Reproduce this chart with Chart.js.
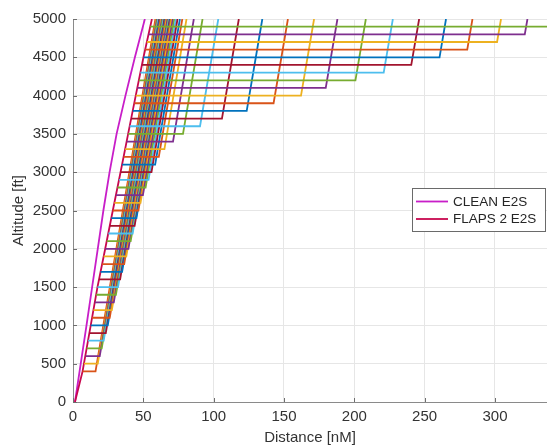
<!DOCTYPE html>
<html>
<head>
<meta charset="utf-8">
<script src="https://cdn.jsdelivr.net/npm/chart.js@4.4.1/dist/chart.umd.min.js"></script>
<style>
    html, body { margin: 0; padding: 0; background: #ffffff; }
    #wrap { position: relative; width: 547px; height: 447px; }
</style>
</head>
<body>
<div id="wrap"><canvas id="climb-chart"></canvas></div>
<script>
// level-off altitudes [ft], one trajectory per level
const levelAlt = [400, 500, 600, 700, 800, 900, 1000, 1100, 1200, 1300,
    1400, 1500, 1600, 1700, 1800, 1900, 2000, 2100, 2200, 2300,
    2400, 2500, 2600, 2700, 2800, 2900, 3000, 3100, 3200, 3300,
    3400, 3500, 3600, 3700, 3800, 3900, 4000, 4100, 4200, 4300,
    4400, 4500, 4600, 4700, 4800, 4900];
// distance [nM] where the level segment starts (on the flaps 2 climb)
const levelStart = [6.8, 7.8, 8.8, 9.8, 10.7, 11.6, 12.6, 13.5, 14.5, 15.5,
    16.4, 17.4, 18.5, 19.6, 20.7, 21.8, 22.9, 24.0, 25.1, 26.2,
    27.2, 28.3, 29.4, 30.5, 31.6, 32.7, 33.8, 34.9, 36.0, 37.0,
    38.1, 39.2, 40.3, 41.4, 42.5, 43.6, 44.6, 45.7, 46.8, 47.9,
    49.0, 50.1, 51.3, 52.5, 53.7, 54.9];
// distance [nM] where the level segment ends and the clean climb begins
const levelEnd = [16.0, 17.6, 19.0, 20.4, 21.8, 23.3, 24.7, 26.1, 27.6, 29.0,
    30.5, 32.0, 33.5, 34.9, 36.4, 37.9, 39.4, 41.0, 42.4, 43.8,
    45.1, 46.5, 48.0, 49.7, 51.6, 53.7, 55.8, 58.4, 61.0, 65.0,
    71.1, 78.2, 90.3, 105.9, 123.5, 142.6, 162.1, 179.7, 200.8, 220.9,
    240.5, 260.6, 280.3, 301.5, 321.2, 345];
// distance [nM] at which 5000 ft is reached (null = never inside the plot)
const topDist = [58.6, 59.3, 59.7, 60.2, 60.7, 61.3, 61.7, 62.2, 62.8, 63.3,
    63.8, 64.4, 65.0, 65.5, 66.0, 66.6, 67.2, 67.9, 68.3, 68.8,
    69.2, 69.6, 70.2, 71.0, 72.0, 73.1, 74.3, 76.0, 77.7, 80.7,
    85.9, 92.1, 103.3, 117.9, 134.6, 152.8, 171.4, 188.0, 208.2, 227.4,
    246.1, 265.2, 284.0, 304.3, 323.1, null];

// reference climbs
const cleanDist = [1.4, 5.5, 9.6, 13.6, 17.6, 21.6, 26.0, 31.0, 37.3, 44.0, 51.1];
const cleanAlt = [0, 500, 1000, 1500, 2000, 2500, 3000, 3500, 4000, 4500, 5000];
const flapsDist = [1.4, 6.8, 12.6, 17.4, 22.9, 28.3, 33.8, 39.2, 44.6, 50.1, 56.1];
const flapsAlt = [0, 400, 1000, 1500, 2000, 2500, 3000, 3500, 4000, 4500, 5000];

const xTicks = [0, 50, 100, 150, 200, 250, 300];
const yTicks = [0, 500, 1000, 1500, 2000, 2500, 3000, 3500, 4000, 4500, 5000];

const colorOrder = ['#0072BD', '#D95319', '#EDB120', '#7E2F8E', '#77AC30', '#4DBEEE', '#A2142F'];
const FONT = 'Liberation Sans, Arial, Helvetica, sans-serif';
const LINE_W = 1.8;

function buildDatasets() {
    const sets = [];

    sets.push({
        label: 'CLEAN E2S',
        data: cleanDist.map((d, i) => ({ x: d, y: cleanAlt[i] })),
        borderColor: '#C81EC8',
        borderWidth: LINE_W,
        order: 100
    });
    sets.push({
        label: 'FLAPS 2 E2S',
        data: flapsDist.map((d, i) => ({ x: d, y: flapsAlt[i] })),
        borderColor: '#C8074E',
        borderWidth: LINE_W,
        order: 99
    });

    levelAlt.forEach((h, i) => {
        const pts = [
            { x: levelStart[i], y: h },
            { x: levelEnd[i], y: h }
        ];
        if (topDist[i] !== null) pts.push({ x: topDist[i], y: 5000 });
        sets.push({
            label: 'lvl ' + h,
            data: pts,
            borderColor: colorOrder[(h / 100 - 3) % 7],
            borderWidth: LINE_W,
            order: 60 - i
        });
    });
    return sets;
}

// small inward ticks like the original axes
const innerTicks = {
    id: 'innerTicks',
    afterDraw(chart) {
        const { ctx, chartArea, scales } = chart;
        ctx.save();
        ctx.strokeStyle = '#6e6e6e';
        ctx.lineWidth = 1;
        ctx.beginPath();
        xTicks.forEach(v => {
            const px = Math.round(scales.x.getPixelForValue(v)) + 0.5;
            ctx.moveTo(px, chartArea.bottom);
            ctx.lineTo(px, chartArea.bottom - 4);
        });
        yTicks.forEach(v => {
            const py = Math.round(scales.y.getPixelForValue(v)) + 0.5;
            ctx.moveTo(chartArea.left, py);
            ctx.lineTo(chartArea.left + 4, py);
        });
        ctx.stroke();
        ctx.restore();
    }
};

// boxed legend inside the axes
const boxLegend = {
    id: 'boxLegend',
    afterDraw(chart) {
        const ctx = chart.ctx;
        const items = chart.data.datasets.slice(0, 2);
        const x0 = 412, y0 = 188, w = 133, h = 43;
        ctx.save();
        ctx.fillStyle = '#ffffff';
        ctx.fillRect(x0, y0, w, h);
        ctx.strokeStyle = '#6a6a6a';
        ctx.lineWidth = 1;
        ctx.strokeRect(x0 + 0.5, y0 + 0.5, w, h);
        ctx.font = '13.5px ' + FONT;
        ctx.textBaseline = 'middle';
        items.forEach((ds, i) => {
            const y = y0 + 13.5 + i * 17.5;
            ctx.strokeStyle = ds.borderColor;
            ctx.lineWidth = 1.8;
            ctx.beginPath();
            ctx.moveTo(x0 + 4, y);
            ctx.lineTo(x0 + 36, y);
            ctx.stroke();
            ctx.fillStyle = '#262626';
            ctx.fillText(ds.label, x0 + 41, y + 0.5);
        });
        ctx.restore();
    }
};

new Chart(document.getElementById('climb-chart'), {
    type: 'line',
    data: { datasets: buildDatasets() },
    options: {
        responsive: true,
        maintainAspectRatio: false,
        animation: false,
        layout: { padding: { top: 19, right: 0, left: 0, bottom: 0 } },
        elements: {
            point: { radius: 0 },
            line: { tension: 0, fill: false }
        },
        plugins: {
            legend: { display: false },
            tooltip: { enabled: false }
        },
        scales: {
            x: {
                type: 'linear',
                min: 0,
                max: 337,
                afterBuildTicks: scale => { scale.ticks = xTicks.map(v => ({ value: v })); },
                afterFit: scale => { scale.height = 45; },
                grid: { color: '#e6e6e6', drawTicks: false },
                border: { color: '#8a8a8a', width: 1 },
                ticks: {
                    color: '#333333',
                    padding: 6,
                    font: { family: FONT, size: 15 },
                    callback: v => String(v)
                },
                title: {
                    display: true,
                    text: 'Distance [nM]',
                    color: '#333333',
                    padding: { top: 0, bottom: 0 },
                    font: { family: FONT, size: 15 }
                }
            },
            y: {
                type: 'linear',
                min: 0,
                max: 5000,
                afterBuildTicks: scale => { scale.ticks = yTicks.map(v => ({ value: v })); },
                afterFit: scale => { scale.width = 73; },
                grid: { color: '#e6e6e6', drawTicks: false },
                border: { color: '#8a8a8a', width: 1 },
                ticks: {
                    color: '#333333',
                    padding: 7,
                    font: { family: FONT, size: 15 },
                    callback: v => String(v)
                },
                title: {
                    display: true,
                    text: 'Altitude [ft]',
                    color: '#333333',
                    padding: { top: 10, bottom: 0 },
                    font: { family: FONT, size: 15 }
                }
            }
        }
    },
    plugins: [innerTicks, boxLegend]
});
</script>
</body>
</html>
